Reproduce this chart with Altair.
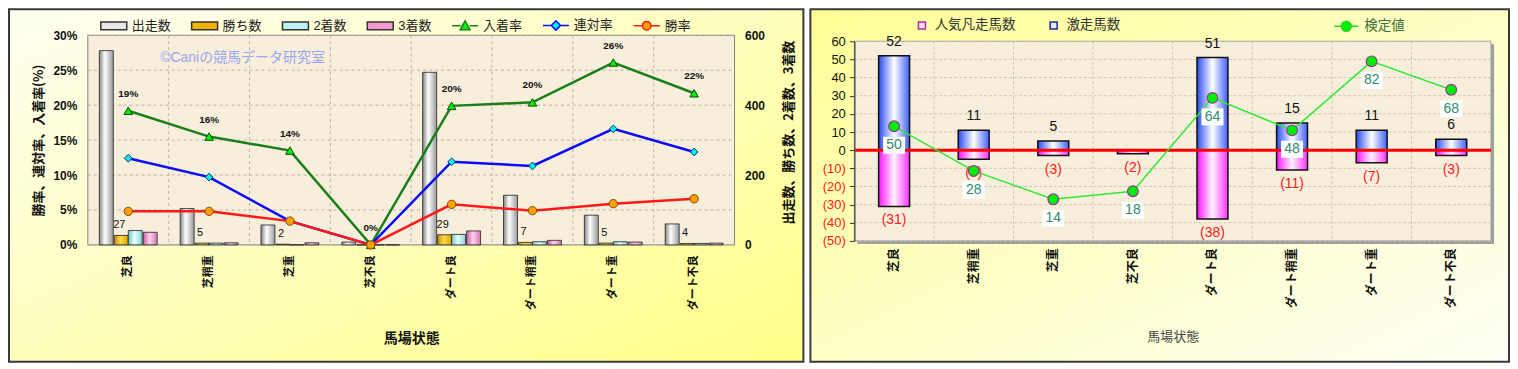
import altair as alt
import pandas as pd

# ---------------- data ----------------
categories = ["芝良", "芝稍重", "芝重", "芝不良", "ダート良", "ダート稍重", "ダート重", "ダート不良"]

starters = [556, 104, 57, 8, 494, 142, 85, 60]
wins = [27, 5, 2, 0, 29, 7, 5, 4]
seconds = [41, 5, 0, 0, 30, 9, 9, 4]
thirds = [36, 6, 6, 0, 40, 13, 8, 5]
place_rate = [19.2, 15.5, 13.5, 0.0, 19.9, 20.4, 26.1, 21.7]
quinella_rate = [12.4, 9.7, 3.4, 0.0, 11.9, 11.3, 16.6, 13.3]
win_rate = [4.8, 4.8, 3.4, 0.0, 5.8, 4.9, 5.9, 6.6]
place_labels = ["19%", "16%", "14%", "0%", "20%", "20%", "26%", "22%"]
pct_ticks = [0, 5, 10, 15, 20, 25, 30]
count_ticks = [0, 100, 200, 300, 400, 500, 600]
left_legend = ["出走数", "勝ち数", "2着数", "3着数", "入着率", "連対率", "勝率"]

surge = [52, 11, 5, 0, 51, 15, 11, 6]
flop = [-31, -5, -3, -2, -38, -11, -7, -3]
test_value = [50, 28, 14, 18, 64, 48, 82, 68]
diff_ticks = [-50, -40, -30, -20, -10, 0, 10, 20, 30, 40, 50, 60]
right_legend_bars = ["人気凡走馬数", "激走馬数"]
right_legend_line = ["検定値"]

JP = "Noto Sans CJK JP"
NUM = "Liberation Sans, Noto Sans CJK JP"

W1, H1 = 648, 210
W2, H2 = 638, 206      # right view; the plot itself spans 6..206
T2 = 6


def hgrad(c0, c1, c2, mid=0.45):
    return {"gradient": "linear", "x1": 0, "y1": 0, "x2": 1, "y2": 0,
            "stops": [{"offset": 0, "color": c0}, {"offset": mid, "color": c1},
                      {"offset": 1, "color": c2}]}


def dgrad(c0, c1):
    return {"gradient": "linear", "x1": 0, "y1": 0, "x2": 1, "y2": 1,
            "stops": [{"offset": 0, "color": c0}, {"offset": 1, "color": c1}]}


xscale = alt.Scale(type="band", domain=categories, paddingInner=0, paddingOuter=0)


def xenc(axis=None, band_pos=None):
    kw = {}
    if band_pos is not None:
        kw["bandPosition"] = band_pos
    if axis is not None:
        kw["axis"] = axis
    return alt.X("cat:N", sort=categories, scale=xscale, **kw)


one = pd.DataFrame({"k": [0]})

# ================= LEFT PANEL =================
df1 = pd.DataFrame({
    "cat": categories, "starters": starters, "wins": wins, "seconds": seconds,
    "thirds": thirds, "p_rate": place_rate, "q_rate": quinella_rate,
    "w_rate": win_rate, "p_label": place_labels,
})

bar_path = "M-1,-0.3H1V0.3H-1Z"
tri_path = "M-1,0H-0.35M0.35,0H1M0,-0.38L0.38,0.3L-0.38,0.3Z"
dia_path = "M-1,0H-0.35M0.35,0H1M0,-0.36L0.36,0L0,0.36L-0.36,0Z"
cir_path = "M-1,0H-0.33M0.33,0H1M0.33,0A0.33,0.33 0 1 1 -0.33,0A0.33,0.33 0 1 1 0.33,0Z"

leg1 = alt.Legend(orient="none", legendX=12, legendY=-24, direction="horizontal",
                  title=None, symbolSize=676, symbolStrokeWidth=1.5,
                  labelFont=NUM, labelFontSize=13, labelColor="#222",
                  labelOffset=4, columnPadding=17, padding=0)

legend_left = alt.Chart(pd.DataFrame({"name": left_legend})).mark_point(
    filled=True, opacity=1
).encode(
    x=alt.value(100), y=alt.value(100),
    fill=alt.Fill("name:N", scale=alt.Scale(domain=left_legend, range=[
        "#e8e8e8", "#f0b400", "#bff0f4", "#f29ad0", "#00ee00", "#00f0f0", "#ff9f00"]), legend=leg1),
    stroke=alt.Stroke("name:N", scale=alt.Scale(domain=left_legend, range=[
        "#333333", "#333333", "#333333", "#333333", "#1a7f1a", "#0a0aff", "#ff1a1a"]), legend=leg1),
    shape=alt.Shape("name:N", scale=alt.Scale(domain=left_legend, range=[
        bar_path, bar_path, bar_path, bar_path, tri_path, dia_path, cir_path]), legend=leg1),
)

bg1 = alt.Chart(one).mark_rect(
    fill=dgrad("#fffff2", "#ffff88"), stroke="#3a3a3a", strokeWidth=2
).encode(x=alt.value(-79), x2=alt.value(W1 + 69), y=alt.value(-26), y2=alt.value(H1 + 117))

plot1 = alt.Chart(one).mark_rect(fill="#f7efdb", stroke="#808080", strokeWidth=1).encode(
    x=alt.value(0), x2=alt.value(W1), y=alt.value(0), y2=alt.value(H1))

pct_scale = alt.Scale(domain=[0, 30], nice=False, zero=True)
hgrid1 = alt.Chart(pd.DataFrame({"v": pct_ticks})).mark_rule(
    color="#b9b2a4", strokeDash=[3, 3], strokeWidth=1
).encode(
    x=alt.value(0), x2=alt.value(W1),
    y=alt.Y("v:Q", scale=pct_scale, axis=alt.Axis(
        values=pct_ticks, labelExpr="datum.value + '%'", labelFont=NUM,
        labelFontSize=12, labelFontWeight="bold", labelColor="#111", labelPadding=11,
        labelOverlap=False, ticks=False, domain=False, grid=False, zindex=2,
        title="勝率、連対率、入着率(%)", titleFont=JP, titleFontSize=13,
        titleFontWeight="bold", titleColor="#111", titleX=-49, titleY=H1 / 2,
        titleBaseline="middle", titleAngle=270)),
)

vgrid1 = alt.Chart(pd.DataFrame({"cat": categories[1:]})).mark_rule(
    color="#b9b2a4", strokeDash=[3, 3], strokeWidth=1
).encode(
    x=xenc(axis=alt.Axis(
        labelAngle=270, labelFont=JP, labelFontSize=11, labelFontWeight="bold",
        labelColor="#111", labelPadding=10, ticks=False, domain=False, grid=False,
        zindex=2, title="馬場状態", titleFont=JP, titleFontSize=14, titleFontWeight="bold",
        titleColor="#111", titleY=94, titleBaseline="middle"), band_pos=0),
    y=alt.value(0), y2=alt.value(H1),
)

watermark = alt.Chart(one).mark_text(
    text="©Caniの競馬データ研究室", font=NUM, fontSize=14, color="#9aa6f0"
).encode(x=alt.value(155), y=alt.value(23))

groupA1 = alt.layer(legend_left, bg1, plot1, hgrid1, vgrid1, watermark)

count_scale = alt.Scale(domain=[0, 600], nice=False, zero=True)


def count_y(field, axis=None):
    if axis is not None:
        return alt.Y(f"{field}:Q", scale=count_scale, axis=axis)
    return alt.Y(f"{field}:Q", scale=count_scale)


count_axis = alt.Axis(
    orient="right", values=count_ticks, labelFont=NUM, labelFontSize=12,
    labelFontWeight="bold", labelColor="#111", labelPadding=10, labelOverlap=False,
    ticks=False, domain=False, grid=False, zindex=2, title="出走数、勝ち数、2着数、3着数",
    titleFont=JP, titleFontSize=13, titleFontWeight="bold", titleColor="#111",
    titleAngle=270, titleX=54, titleY=97, titleBaseline="middle")

base1 = alt.Chart(df1)
bar_specs = [
    ("starters", -22, hgrad("#858585", "#ffffff", "#9a9a9a", 0.4), count_axis),
    ("wins", -7, hgrad("#c88f00", "#ffd84a", "#dca400"), None),
    ("seconds", 7, hgrad("#6cc4cc", "#eaffff", "#86d2da"), None),
    ("thirds", 22, hgrad("#cc5c9e", "#ffd2ee", "#d674b2"), None),
]
bars1 = [
    base1.mark_bar(size=14, xOffset=off, fill=g, stroke="#222", strokeWidth=0.8).encode(
        x=xenc(), y=count_y(f, ax))
    for f, off, g, ax in bar_specs
]
win_labels = base1.transform_filter("datum.wins > 0").mark_text(
    dx=-9, dy=-10, font=NUM, fontSize=11, color="#111"
).encode(x=xenc(), y=count_y("wins"), text="wins:Q")

groupB1 = alt.layer(*bars1, win_labels)

pct_scale_c = alt.Scale(domain=[0, 30], nice=False, zero=True)


def pct_y(field):
    return alt.Y(f"{field}:Q", scale=pct_scale_c, axis=None)


line_specs = [
    ("p_rate", "#1a7f1a", "triangle-up", "#00ee00", "#0b4a0b", 75),
    ("q_rate", "#0a0aff", "diamond", "#00eef4", "#10305a", 60),
    ("w_rate", "#ff1a1a", "circle", "#ff9f00", "#7a4a00", 70),
]
lines1 = []
for f, lc, shp, fc, sc, sz in line_specs:
    lines1.append(base1.mark_line(color=lc, strokeWidth=2.5).encode(x=xenc(), y=pct_y(f)))
    lines1.append(base1.mark_point(shape=shp, filled=True, fill=fc, stroke=sc,
                                   strokeWidth=1, size=sz, opacity=1).encode(x=xenc(), y=pct_y(f)))
place_text = base1.mark_text(dy=-17, font=NUM, fontSize=10, fontWeight="bold",
                             color="#111").encode(x=xenc(), y=pct_y("p_rate"), text="p_label:N")
groupC1 = alt.layer(*lines1, place_text)

left = alt.layer(groupA1, groupB1, groupC1).resolve_scale(y="independent").properties(
    width=W1, height=H1)

# ================= RIGHT PANEL =================
df2 = pd.DataFrame({"cat": categories, "surge": surge, "flop": flop, "test": test_value})


def diff_scale():
    return alt.Scale(domain=[-50, 60], nice=False, zero=True, range=[H2, T2])


legR1 = alt.Legend(orient="none", legendX=61, legendY=-17, direction="horizontal",
                   title=None, symbolType="square", symbolSize=49, symbolStrokeWidth=1.5,
                   labelFont=JP, labelFontSize=13.5, labelColor="#333",
                   labelOffset=6, columnPadding=31, padding=0)
legend_r1 = alt.Chart(pd.DataFrame({"n1": right_legend_bars})).mark_point(
    filled=True, opacity=1, shape="square"
).encode(
    x=alt.value(100), y=alt.value(100),
    fill=alt.Fill("n1:N", scale=alt.Scale(domain=right_legend_bars,
                                          range=["#ffe0ff", "#e0e8ff"]), legend=legR1),
    stroke=alt.Stroke("n1:N", scale=alt.Scale(domain=right_legend_bars,
                                              range=["#b02aa8", "#1a2a9a"]), legend=legR1),
)

line_leg_path = "M-1,0H-0.42M0.42,0H1M0.42,0A0.42,0.42 0 1 1 -0.42,0A0.42,0.42 0 1 1 0.42,0Z"
legR2 = alt.Legend(orient="none", legendX=480, legendY=-22, direction="horizontal",
                   title=None, symbolSize=576, symbolStrokeWidth=1.5,
                   labelFont=JP, labelFontSize=13.5, labelColor="#3a6e3a",
                   labelOffset=5, padding=0)
legend_r2 = alt.Chart(pd.DataFrame({"n2": right_legend_line})).mark_point(
    filled=True, opacity=1
).encode(
    x=alt.value(100), y=alt.value(100),
    shape=alt.Shape("n2:N", scale=alt.Scale(domain=right_legend_line,
                                            range=[line_leg_path]), legend=legR2),
    fill=alt.Fill("n2:N", scale=alt.Scale(domain=right_legend_line,
                                          range=["#00ee00"]), legend=legR2),
    stroke=alt.Stroke("n2:N", scale=alt.Scale(domain=right_legend_line,
                                              range=["#2ad42a"]), legend=legR2),
)

legends_r = alt.layer(legend_r1, legend_r2).resolve_scale(
    fill="independent", stroke="independent", shape="independent"
).resolve_legend(fill="independent", stroke="independent", shape="independent")

bg2 = alt.Chart(one).mark_rect(
    fill=dgrad("#ffff96", "#fffff6"), stroke="#3a3a3a", strokeWidth=2
).encode(x=alt.value(-44), x2=alt.value(W2 + 18), y=alt.value(-26), y2=alt.value(H2 + 121))

shadow2 = alt.Chart(one).mark_rect(fill="#a0a0a0").encode(
    x=alt.value(3), x2=alt.value(W2 + 3), y=alt.value(T2 + 3), y2=alt.value(H2 + 3))
plot2 = alt.Chart(one).mark_rect(fill="#f7efdb", stroke="#9a9a9a", strokeWidth=1).encode(
    x=alt.value(0), x2=alt.value(W2), y=alt.value(T2), y2=alt.value(H2))

hgrid2 = alt.Chart(pd.DataFrame({"v": diff_ticks})).mark_rule(
    color="#cfc7b6", strokeDash=[3, 2], strokeWidth=1
).encode(
    x=alt.value(0), x2=alt.value(W2),
    y=alt.Y("v:Q", scale=diff_scale(), axis=alt.Axis(
        values=diff_ticks,
        labelExpr="datum.value < 0 ? '(' + abs(datum.value) + ')' : datum.value",
        labelColor={"condition": {"test": "datum.value < 0", "value": "#ff2020"},
                    "value": "#111111"},
        labelFont=NUM, labelFontSize=13, labelPadding=4, labelOverlap=False,
        labelBound=False, tickSize=5, tickColor="#333", domain=True, domainColor="#555",
        domainWidth=1.5, grid=False, zindex=2, title=None)),
)
vgrid2 = alt.Chart(pd.DataFrame({"cat": categories[1:]})).mark_rule(
    color="#cfc7b6", strokeDash=[3, 2], strokeWidth=1
).encode(
    x=xenc(axis=alt.Axis(
        labelAngle=270, labelFont=JP, labelFontSize=12, labelFontWeight="bold",
        labelColor="#111", labelPadding=7, ticks=False, domain=False, grid=False,
        zindex=2, title="馬場状態", titleFont=JP, titleFontSize=13, titleFontWeight="normal",
        titleColor="#444", titleY=96, titleBaseline="middle"), band_pos=0),
    y=alt.value(T2), y2=alt.value(H2),
)

groupA2 = alt.layer(legends_r, bg2, shadow2, plot2, hgrid2, vgrid2)

base2 = alt.Chart(df2)
pos_bars = base2.transform_filter("datum.surge > 0").mark_bar(
    size=31, fill=hgrad("#2a4af0", "#ffffff", "#4060ff", 0.5), stroke="#111", strokeWidth=1.5
).encode(x=xenc(), y=alt.Y("surge:Q", scale=diff_scale(), axis=None))
neg_bars = base2.transform_filter("datum.flop < 0").mark_bar(
    size=31, fill=hgrad("#ff10ff", "#fff4ff", "#ff30ff", 0.5), stroke="#111", strokeWidth=1.5
).encode(x=xenc(), y=alt.Y("flop:Q", scale=diff_scale(), axis=None))
zero_line = alt.Chart(one).mark_rule(color="#ff0000", strokeWidth=3).encode(
    x=alt.value(0), x2=alt.value(W2),
    y=alt.datum(0, scale=diff_scale(), axis=None))
pos_text = base2.transform_filter("datum.surge > 0").mark_text(
    dy=-14, font=NUM, fontSize=14, color="#111"
).encode(x=xenc(), y=alt.Y("surge:Q", scale=diff_scale(), axis=None), text="surge:Q")
neg_text = base2.transform_filter("datum.flop < 0").transform_calculate(
    lab="'(' + abs(datum.flop) + ')'"
).mark_text(dy=14, font=NUM, fontSize=14, color="#ff2020").encode(
    x=xenc(), y=alt.Y("flop:Q", scale=diff_scale(), axis=None), text="lab:N")

groupM2 = alt.layer(pos_bars, neg_bars, zero_line, pos_text, neg_text)

test_scale = alt.Scale(domain=[-6.5, 91.9], nice=False, zero=False, range=[H2, T2])
ty = alt.Y("test:Q", scale=test_scale, axis=None)
box_path = "M-1.1,-0.85H1.1V0.85H-1.1Z"
t_line = base2.mark_line(color="#33e833", strokeWidth=1.5).encode(x=xenc(), y=ty)
t_pts = base2.mark_point(filled=True, fill="#00ee00", stroke="#993399", strokeWidth=1.2,
                         size=115, opacity=1).encode(x=xenc(), y=ty)
t_box = base2.mark_point(shape=box_path, filled=True, fill="#ffffff", strokeWidth=0,
                         size=400, yOffset=19, opacity=1).encode(x=xenc(), y=ty)
t_txt = base2.mark_text(dy=19, font=NUM, fontSize=14, color="#2e8b6e").encode(
    x=xenc(), y=ty, text="test:Q")
groupB2 = alt.layer(t_line, t_pts, t_box, t_txt)

right = alt.layer(groupA2, groupM2, groupB2).resolve_scale(y="independent").properties(
    width=W2, height=H2)

chart = alt.hconcat(left, right, spacing=5).resolve_scale(
    fill="independent", stroke="independent", shape="independent"
).resolve_legend(
    fill="independent", stroke="independent", shape="independent"
).properties(padding=0).configure_view(stroke=None).configure_axis(labelOverlap=False)

chart.save("out.html", embed_options={"renderer": "svg", "actions": False})
